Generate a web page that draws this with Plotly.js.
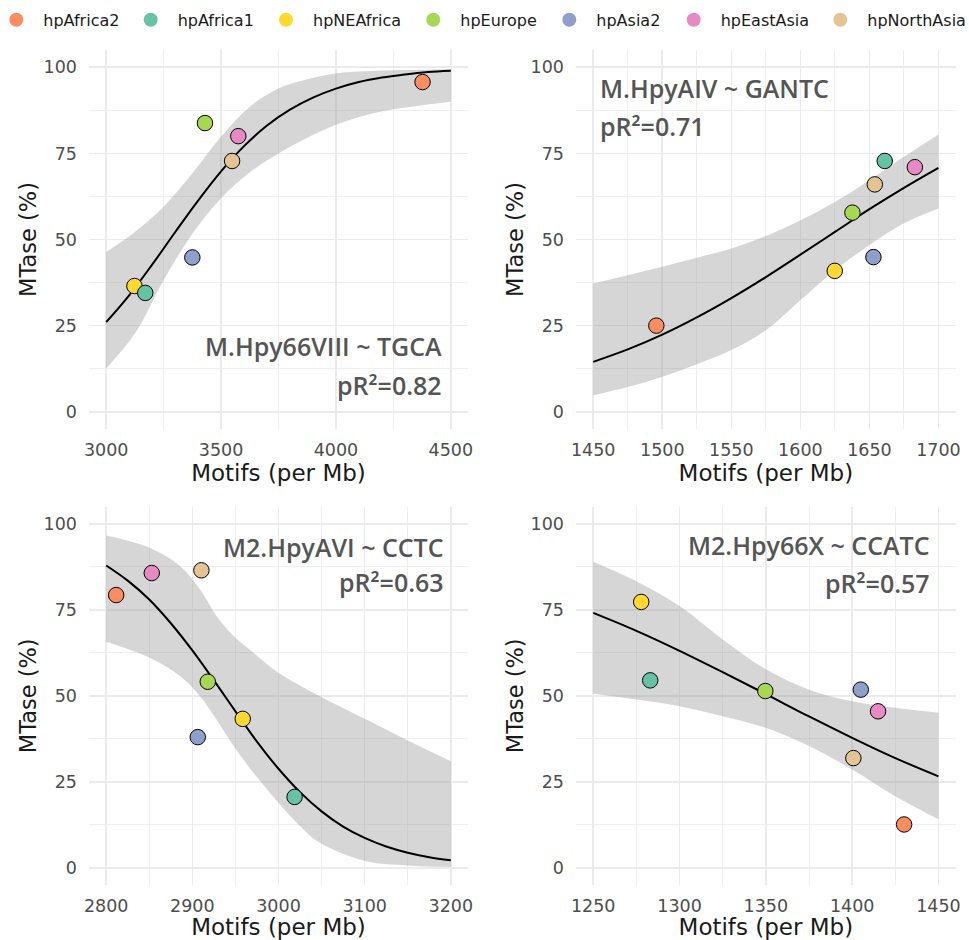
<!DOCTYPE html>
<html>
<head>
<meta charset="utf-8">
<script src="https://cdn.plot.ly/plotly-3.0.1.min.js"></script>
<style>html,body{margin:0;padding:0;background:#fff;}#chart{width:969px;height:940px;}</style>
</head>
<body>
<div id="chart"></div>
<script>
// ---------- data ----------
const populations = ['hpAfrica2','hpAfrica1','hpNEAfrica','hpEurope','hpAsia2','hpEastAsia','hpNorthAsia'];
const popColors = ['#FC8D62','#66C2A5','#FFD92F','#A6D854','#8DA0CB','#E78AC3','#E5C494'];
// order in which points are drawn (later ones on top)
const pointPops = ['hpAfrica2','hpNEAfrica','hpAfrica1','hpEurope','hpAsia2','hpEastAsia','hpNorthAsia'];

// Panel A: M.Hpy66VIII ~ TGCA
const motifsA = [4377, 3123, 3170, 3430, 3375, 3575, 3548];
const mtaseA  = [95.7, 36.5, 34.5, 83.8, 44.8, 80.0, 72.8];
const fitXA = [3000,3100,3200,3300,3400,3500,3600,3700,3800,3900,4000,4100,4200,4300,4400,4500];
const fitYA = [26.0,33.8,42.7,52.1,61.3,69.8,77.1,83.1,87.7,91.2,93.8,95.7,97.0,97.9,98.6,99.0];
const bandXA  = [3000,3125,3250,3375,3500,3625,3750,3875,4000,4125,4250,4375,4500];
const bandHiA = [46.4,52.2,59.5,69.2,79.8,88.5,93.8,96.5,98.2,98.8,99.1,99.3,99.4];
const bandLoA = [12.6,22.7,38.2,51.7,62.0,69.5,75.0,79.5,83.3,86.0,87.8,89.0,90.0];

// Panel B: M.HpyAIV ~ GANTC
const motifsB = [1495.7, 1624.9, 1661.1, 1637.7, 1652.9, 1682.9, 1653.9];
const mtaseB  = [25.0, 40.9, 72.8, 57.8, 44.9, 71.0, 66.0];
const fitXB = [1450,1475,1500,1525,1550,1575,1600,1625,1650,1675,1700];
const fitYB = [14.5,18.1,22.4,27.4,33.0,39.1,45.6,52.2,58.8,65.0,70.8];
const bandXB  = [1450,1475,1500,1525,1550,1575,1600,1625,1650,1675,1700];
const bandHiB = [37.2,39.6,42.1,44.7,47.4,51.0,55.6,60.9,67.2,74.0,80.5];
const bandLoB = [4.8,7.2,10.2,13.8,17.9,23.7,32.4,41.1,48.4,54.7,59.0];

// Panel C: M2.HpyAVI ~ CCTC
const motifsC = [2811.6, 2958.5, 3018.7, 2917.9, 2906.3, 2852.9, 2910.5];
const mtaseC  = [79.3, 43.3, 20.6, 54.1, 38.0, 85.7, 86.5];
const fitXC = [2800,2825,2850,2875,2900,2925,2950,2975,3000,3025,3050,3075,3100,3125,3150,3175,3200];
const fitYC = [87.9,83.5,78.0,71.1,63.2,54.5,45.5,36.7,28.8,22.0,16.4,12.0,8.7,6.2,4.4,3.1,2.2];
const bandHiXC = [2800,2851,2886,2909,2928,2948,2971,3000,3048,3102,3150,3200];
const bandHiC  = [96.6,93.0,87.7,80.9,73.2,67.3,62.5,56.7,49.9,43.1,37.0,31.0];
const bandLoXC = [2800,2851,2886,2909,2928,2948,2971,3000,3025,3048,3102,3150,3200];
const bandLoC  = [65.7,61.0,55.7,49.9,43.1,35.4,27.6,18.9,12.1,7.3,1.9,0.7,0.2];

// Panel D: M2.Hpy66X ~ CCATC
const motifsD = [1430.1, 1277.8, 1283.0, 1349.7, 1405.0, 1415.0, 1400.7];
const mtaseD  = [12.6, 77.3, 54.5, 51.4, 51.8, 45.5, 31.9];
const fitXD = [1250,1275,1300,1325,1350,1375,1400,1425,1450];
const fitYD = [74.1,68.9,63.1,56.9,50.5,44.0,37.8,31.9,26.6];
const bandXD  = [1250,1275,1300,1325,1350,1375,1400,1425,1450];
const bandHiD = [89.0,83.3,76.1,66.4,57.7,51.8,48.4,46.5,45.1];
const bandLoD = [50.7,48.9,47.0,44.1,40.7,35.4,28.6,20.8,14.1];

const labelsA = ['M.Hpy66VIII ~ TGCA', 'pR²=0.82'];
const labelsB = ['M.HpyAIV ~ GANTC', 'pR²=0.71'];
const labelsC = ['M2.HpyAVI ~ CCTC', 'pR²=0.63'];
const labelsD = ['M2.Hpy66X ~ CCATC', 'pR²=0.57'];

const yTicks = [0, 25, 50, 75, 100];
const xTicksA = [3000, 3500, 4000, 4500];
const xTicksB = [1450, 1500, 1550, 1600, 1650, 1700];
const xTicksC = [2800, 2900, 3000, 3100, 3200];
const xTicksD = [1250, 1300, 1350, 1400, 1450];

// ---------- traces ----------
const pointColors = pointPops.map(p => popColors[populations.indexOf(p)]);
const traces = [];
function panel(xa, ya, hiX, hi, loX, lo, fx, fy, px, py) {
  traces.push({
    type: 'scatter', mode: 'lines', xaxis: xa, yaxis: ya,
    x: loX, y: lo, line: {width: 0, shape: 'spline'},
    showlegend: false, hoverinfo: 'skip'
  });
  traces.push({
    type: 'scatter', mode: 'lines', xaxis: xa, yaxis: ya,
    x: hiX, y: hi, fill: 'tonexty', fillcolor: 'rgba(153,153,153,0.4)',
    line: {width: 0, shape: 'spline'},
    showlegend: false, hoverinfo: 'skip'
  });
  traces.push({
    type: 'scatter', mode: 'lines', xaxis: xa, yaxis: ya,
    x: fx, y: fy, line: {color: '#000000', width: 2, shape: 'spline'},
    showlegend: false, hoverinfo: 'skip'
  });
  traces.push({
    type: 'scatter', mode: 'markers', xaxis: xa, yaxis: ya,
    x: px, y: py, text: pointPops,
    marker: {size: 15.5, color: pointColors, line: {color: '#000000', width: 1}},
    showlegend: false
  });
}
panel('x', 'y', bandXA, bandHiA, bandXA, bandLoA, fitXA, fitYA, motifsA, mtaseA);
panel('x2', 'y2', bandXB, bandHiB, bandXB, bandLoB, fitXB, fitYB, motifsB, mtaseB);
panel('x3', 'y3', bandHiXC, bandHiC, bandLoXC, bandLoC, fitXC, fitYC, motifsC, mtaseC);
panel('x4', 'y4', bandXD, bandHiD, bandXD, bandLoD, fitXD, fitYD, motifsD, mtaseD);

// one legend per population, placed like the reference's legend row
const legendIds = populations.map((p, i) => i === 0 ? 'legend' : 'legend' + (i + 1));
populations.forEach((p, i) => {
  traces.push({
    type: 'scatter', mode: 'markers', x: [null], y: [null], name: p,
    marker: {size: 14, color: popColors[i]}, showlegend: true, legend: legendIds[i]
  });
});

// ---------- layout ----------
const L = [0.0918, 0.483], R = [0.5944, 0.9863];
const T = [0.5436, 0.9468], B = [0.0585, 0.461];
const grid = '#EBEBEB';
function xax(dom, anchor, range, ticks, minorD) {
  return {
    domain: dom, anchor: anchor, range: range, tickvals: ticks, automargin: false,
    showgrid: true, gridcolor: grid, gridwidth: 1.6, zeroline: false, showline: false,
    ticks: '', ticklabelstandoff: 8,
    tickfont: {size: 17.5, color: '#4D4D4D', family: 'DejaVu Sans'},
    minor: {dtick: minorD, showgrid: true, gridcolor: grid, gridwidth: 0.8},
    title: {text: 'Motifs (per Mb)', font: {size: 23, color: '#1A1A1A', family: 'DejaVu Sans'}, standoff: 2}
  };
}
function yax(dom, anchor) {
  return {
    domain: dom, anchor: anchor, range: [-5, 105], tickvals: yTicks, automargin: false,
    showgrid: true, gridcolor: grid, gridwidth: 1.6, zeroline: false, showline: false,
    ticks: '', ticklabelstandoff: 11,
    tickfont: {size: 17.5, color: '#4D4D4D', family: 'DejaVu Sans'},
    minor: {dtick: 12.5, showgrid: true, gridcolor: grid, gridwidth: 0.8},
    title: {text: 'MTase (%)', font: {size: 22.5, color: '#1A1A1A', family: 'DejaVu Sans'}, standoff: 0}
  };
}
function ann(xref, yref, x, y, text, anchor) {
  return {
    xref: xref, yref: yref, x: x, y: y, text: text, showarrow: false,
    xanchor: anchor, yanchor: 'middle',
    font: {family: 'Open Sans', size: 25, color: '#555555', weight: 600}
  };
}
// legend circle centres in the reference row (px)
const legendCenters = [16.3, 150.7, 286, 433.3, 569.3, 693.7, 840.3];
const layout = {
  width: 969, height: 940,
  margin: {l: 0, r: 0, t: 0, b: 0, autoexpand: false},
  paper_bgcolor: '#FFFFFF', plot_bgcolor: '#FFFFFF',
  font: {family: 'DejaVu Sans'},
  showlegend: true,
  xaxis: xax(L, 'y', [2925, 4575], xTicksA, 250),
  yaxis: yax(T, 'x'),
  xaxis2: xax(R, 'y2', [1437.5, 1712.5], xTicksB, 25),
  yaxis2: yax(T, 'x2'),
  xaxis3: xax(L, 'y3', [2780, 3220], xTicksC, 50),
  yaxis3: yax(B, 'x3'),
  xaxis4: xax(R, 'y4', [1240, 1460], xTicksD, 25),
  yaxis4: yax(B, 'x4'),
  annotations: [
    ann('x domain', 'y domain', 0.9367, 0.219, labelsA[0], 'right'),
    ann('x domain', 'y domain', 0.9367, 0.116, labelsA[1], 'right'),
    ann('x2 domain', 'y2 domain', 0.0587, 0.899, labelsB[0], 'left'),
    ann('x2 domain', 'y2 domain', 0.0587, 0.7995, labelsB[1], 'left'),
    ann('x3 domain', 'y3 domain', 0.942, 0.894, labelsC[0], 'right'),
    ann('x3 domain', 'y3 domain', 0.942, 0.8017, labelsC[1], 'right'),
    ann('x4 domain', 'y4 domain', 0.9376, 0.8988, labelsD[0], 'right'),
    ann('x4 domain', 'y4 domain', 0.9376, 0.7975, labelsD[1], 'right')
  ]
};
legendIds.forEach((id, i) => {
  layout[id] = {
    orientation: 'h', x: (legendCenters[i] - 27) / 969, y: 0.997,
    xanchor: 'left', yanchor: 'top', traceorder: 'normal',
    font: {size: 16, color: '#1A1A1A', family: 'DejaVu Sans'},
    itemwidth: 44, bgcolor: 'rgba(0,0,0,0)', borderwidth: 0
  };
});
Plotly.newPlot('chart', traces, layout, {displayModeBar: false, staticPlot: true});
</script>
</body>
</html>
